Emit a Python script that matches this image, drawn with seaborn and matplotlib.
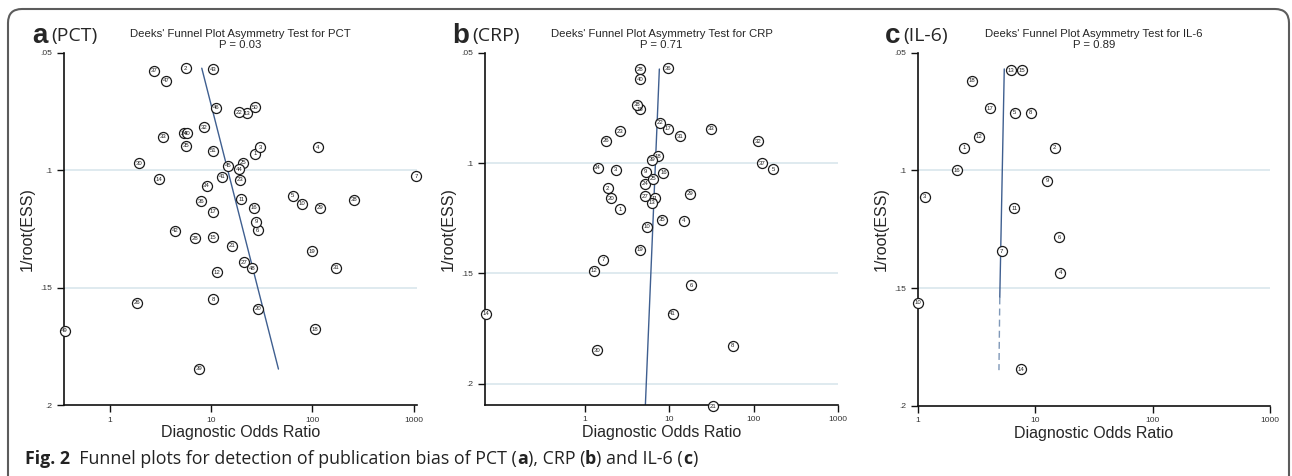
import numpy as np
import pandas as pd
import matplotlib
matplotlib.use("Agg")
import matplotlib.pyplot as plt
import seaborn as sns
from matplotlib.patches import FancyBboxPatch
from matplotlib.ticker import NullLocator

# values
# PCT: study id, diagnostic odds ratio, 1/root(ESS)
pct_ids = list(range(1, 52))
pct_dor = [27.0, 5.6, 30.5, 113, 64, 28.9, 1057, 10.5, 27.8, 78.7,
           19.9, 11.4, 22.5, 3.07, 10.5, 26.6, 10.5, 106, 99.6, 29.3,
           16.2, 18.9, 19.3, 5.4, 20.5, 1.84, 21.3, 6.9, 119, 1.94,
           172, 8.5, 3.32, 9.0, 5.6, 8.0, 2.74, 259, 7.6, 5.8,
           12.9, 4.4, 10.5, 18.9, 14.7, 11.1, 3.56, 25.2, 0.356, 27.0,
           10.5]
pct_ess = [0.093, 0.0566, 0.0903, 0.0903, 0.111, 0.1257, 0.1025, 0.155, 0.1219, 0.1144,
           0.1124, 0.1434, 0.0758, 0.1039, 0.1285, 0.116, 0.1177, 0.1677, 0.1345, 0.159,
           0.1322, 0.0754, 0.1042, 0.0843, 0.0968, 0.1564, 0.1392, 0.129, 0.1161, 0.0971,
           0.1415, 0.0817, 0.0857, 0.1066, 0.0897, 0.1132, 0.0577, 0.1127, 0.1846, 0.0843,
           0.1028, 0.1259, 0.0571, 0.0996, 0.0981, 0.0734, 0.0619, 0.1417, 0.1684, 0.0732,
           0.0917]
pct_fit_dor = [8.07, 46.2]
pct_fit_ess = [0.0566, 0.1847]

# CRP
crp_ids = list(range(1, 42))
crp_dor = [2.62, 1.86, 2.31, 14.8, 169, 18.2, 1.63, 56.2, 5.24, 5.38,
           6.7, 1.29, 6.22, 0.0666, 4.45, 8.47, 9.55, 7.33, 4.45, 2.05,
           32.9, 7.74, 2.62, 5.18, 6.44, 1.77, 5.1, 4.52, 17.4, 1.40,
           13.4, 113, 31.1, 1.41, 8.24, 9.62, 126, 4.13, 6.27, 4.52,
           10.9]
crp_ess = [0.1209, 0.1114, 0.103, 0.1262, 0.1029, 0.1553, 0.1438, 0.1829, 0.1039, 0.1288,
           0.1159, 0.1489, 0.118, 0.1682, 0.0757, 0.1045, 0.0844, 0.097, 0.1392, 0.116,
           0.2101, 0.0818, 0.0856, 0.1094, 0.1071, 0.09, 0.115, 0.0574, 0.1138, 0.1848,
           0.0879, 0.0901, 0.0844, 0.1021, 0.1257, 0.0571, 0.1001, 0.0735, 0.0985, 0.062,
           0.1684]
crp_fit_dor = [7.59, 5.18]
crp_fit_ess = [0.0574, 0.21]

# IL-6
il6_ids = list(range(1, 19))
il6_dor = [2.48, 14.7, 1.15, 16.3, 6.73, 16.0, 5.19, 9.16, 12.7, 1.0,
           6.64, 3.32, 6.22, 7.62, 7.68, 2.15, 4.12, 2.88]
il6_ess = [0.0904, 0.0904, 0.1112, 0.1435, 0.0755, 0.1285, 0.1343, 0.0755, 0.1044, 0.1563,
           0.1162, 0.0857, 0.0574, 0.1846, 0.0574, 0.0999, 0.0736, 0.0619]
il6_fit_dor = [5.46, 5.0, 4.92]
il6_fit_ess = [0.0569, 0.154, 0.1849]

W, H = 1292, 476

sns.set_theme(style="ticks")
plt.rcParams["font.family"] = ["Liberation Sans", "DejaVu Sans"]

fig = plt.figure(figsize=(W / 100, H / 100), dpi=100)
fig.patch.set_facecolor("white")

line_col = "#3f5f90"


def px_axes(left, top, right, bottom):
    return fig.add_axes([left / W, 1 - bottom / H, (right - left) / W, (bottom - top) / H])


def funnel(ax, ids, dor, ess, fit_dor, fit_ess, xlim, ylim, grid, title, dashed_tail=False):
    ax.set_xscale("log")
    for g in grid:
        ax.axhline(g, color="#dce8ee", lw=1.3, zorder=0)
    df = pd.DataFrame({"id": ids, "dor": dor, "ess": ess})
    sns.scatterplot(data=df, x="dor", y="ess", ax=ax, s=52, color="white",
                    edgecolor="#1a1a1a", linewidth=0.9, zorder=3, clip_on=False)
    for _, r in df.iterrows():
        ax.text(r["dor"], r["ess"], str(int(r["id"])), fontsize=4.3, color="#222",
                ha="center", va="center", zorder=4, clip_on=False)
    fit = pd.DataFrame({"dor": fit_dor, "ess": fit_ess})
    if dashed_tail:
        sns.lineplot(data=fit.iloc[:2], x="dor", y="ess", ax=ax, sort=False,
                     color=line_col, lw=1.0, zorder=2)
        sns.lineplot(data=fit.iloc[1:], x="dor", y="ess", ax=ax, sort=False,
                     color="#7f98b8", lw=1.0, zorder=2, linestyle=(0, (5, 3)))
    else:
        sns.lineplot(data=fit, x="dor", y="ess", ax=ax, sort=False,
                     color=line_col, lw=1.0, zorder=2)
    ax.set_xlim(*xlim)
    ax.set_ylim(*ylim)
    ax.set_xticks([1, 10, 100, 1000])
    ax.set_xticklabels(["1", "10", "100", "1000"])
    ax.xaxis.set_minor_locator(NullLocator())
    ax.set_yticks([0.05, 0.1, 0.15, 0.2])
    ax.set_yticklabels([".05", ".1", ".15", ".2"])
    ax.tick_params(labelsize=6, length=4.8, width=1.0, color="#111",
                   labelcolor="#333", pad=3.5)
    sns.despine(ax=ax)
    for s in ["left", "bottom"]:
        ax.spines[s].set_color("#111")
        ax.spines[s].set_linewidth(1.2)
    ax.set_facecolor("white")
    ax.set_xlabel("Diagnostic Odds Ratio", fontsize=11.5, labelpad=1)
    ax.set_ylabel("1/root(ESS)", fontsize=11.5, labelpad=4)
    ax.set_title(title, fontsize=8.2, linespacing=1.05, pad=3.5)


ax_a = px_axes(64, 52.7, 417, 405)
funnel(ax_a, pct_ids, pct_dor, pct_ess, pct_fit_dor, pct_fit_ess,
       (0.351, 1081), (0.2, 0.05), [0.1, 0.15],
       "Deeks' Funnel Plot Asymmetry Test for PCT\nP = 0.03")

ax_b = px_axes(485, 52.7, 838.3, 404.7)
funnel(ax_b, crp_ids, crp_dor, crp_ess, crp_fit_dor, crp_fit_ess,
       (0.0653, 1000), (0.2095, 0.05), [0.1, 0.15, 0.2],
       "Deeks' Funnel Plot Asymmetry Test for CRP\nP = 0.71")

ax_c = px_axes(917.7, 52.7, 1270, 405.7)
funnel(ax_c, il6_ids, il6_dor, il6_ess, il6_fit_dor, il6_fit_ess,
       (1, 1000), (0.2, 0.05), [0.1, 0.15],
       "Deeks' Funnel Plot Asymmetry Test for IL-6\nP = 0.89", dashed_tail=True)

# panel letters
for xl, xp, letter, name in [(32, 51, "a", "(PCT)"), (452, 472, "b", "(CRP)"),
                             (885, 903, "c", "(IL-6)")]:
    fig.text(xl / W, 1 - 43 / H, letter, fontsize=20, weight="bold", va="baseline")
    fig.text(xp / W, 1 - 41 / H, name, fontsize=14, family="Open Sans", va="baseline")

# outer frame
frame = FancyBboxPatch((8 / 100, -0.3), (1289 - 8) / 100, (H - 9) / 100 + 0.3,
                       boxstyle="round,pad=0,rounding_size=0.14",
                       transform=fig.dpi_scale_trans, fill=False,
                       edgecolor="#5c5c5c", lw=1.5, zorder=-1)
fig.patches.append(frame)

# caption with bold pieces
renderer = fig.canvas.get_renderer()
parts = [("Fig. 2", True), ("  Funnel plots for detection of publication bias of PCT (", False),
         ("a", True), ("), CRP (", False), ("b", True), (") and IL-6 (", False),
         ("c", True), (")", False)]
x = 25 / W
for txt, bold in parts:
    t = fig.text(x, 1 - 464 / H, txt, fontsize=12.8, family="Open Sans",
                 weight="bold" if bold else "normal", va="baseline", color="#222")
    bb = t.get_window_extent(renderer)
    x += bb.width / fig.bbox.width

fig.savefig("out.png", dpi=100)
